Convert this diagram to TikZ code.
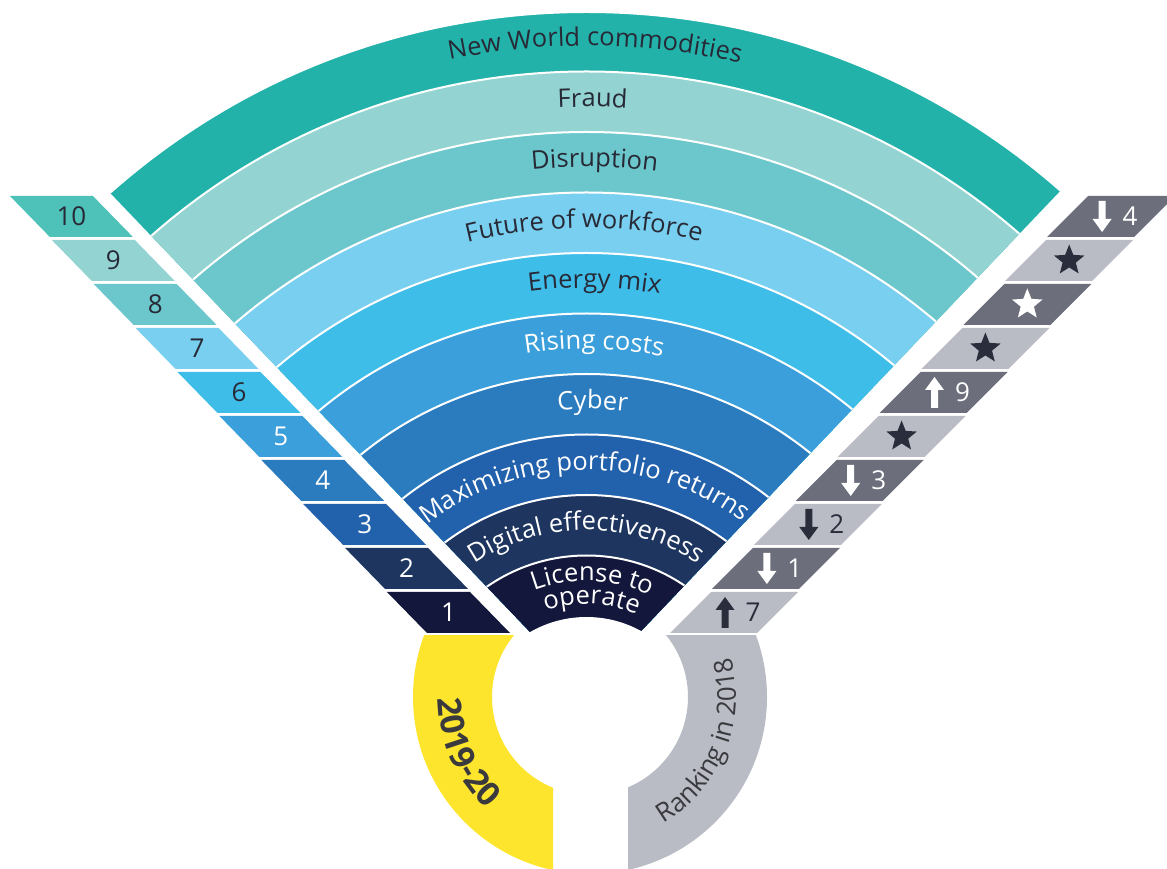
\documentclass[tikz,border=0pt]{standalone}
\usepackage{fontspec}
\setmainfont{Open Sans}
\usetikzlibrary{calc,decorations.text,shapes.geometric}

\definecolor{cNWC}{HTML}{22B2AA}
\definecolor{cFraud}{HTML}{93D4D2}
\definecolor{cDisr}{HTML}{6BC7CB}
\definecolor{cFut}{HTML}{79CFEF}
\definecolor{cEner}{HTML}{3FBDE9}
\definecolor{cRise}{HTML}{3A9FDA}
\definecolor{cCyb}{HTML}{2B7BBF}
\definecolor{cMax}{HTML}{2261AB}
\definecolor{cDig}{HTML}{1E355F}
\definecolor{cLic}{HTML}{13173B}
\definecolor{cTen}{HTML}{4EC2B9}
\definecolor{txtdark}{HTML}{272A36}
\definecolor{icondark}{HTML}{2A2D3B}
\definecolor{gdark}{HTML}{6C6F7B}
\definecolor{glight}{HTML}{B9BCC5}
\definecolor{ylw}{HTML}{FCE52C}
\definecolor{ringtxt}{HTML}{3A3A3E}

\newcommand\bandfnt{\fontsize{25.5}{30}\selectfont}
\newcommand\ringfntA{\fontsize{33}{36}\selectfont\bfseries}
\newcommand\ringfntB{\fontsize{26}{30}\selectfont}

% curved band label: #1 baseline radius, #2 x offset of centre, #3 colour, #4 text
\newcommand\bandlabel[4]{%
  \pgfmathsetmacro\tcA{90-asin(#2/#1)}%
  \path[decorate, decoration={text along path, text align=center,
      text={|\bandfnt\color{#3}|#4}}]
    (O) ++(\tcA+70:#1) arc[start angle=\tcA+70, end angle=\tcA-70, radius=#1];}

\newcommand\arrDown[3]{\fill[#3] (#1-3.5,#2+15.5) -- (#1+3.5,#2+15.5) -- (#1+3.5,#2-2.5) -- (#1+9.5,#2-2.5) -- (#1,#2-15.5) -- (#1-9.5,#2-2.5) -- (#1-3.5,#2-2.5) -- cycle;}
\newcommand\arrUp[3]{\fill[#3] (#1-3.5,#2-15.5) -- (#1+3.5,#2-15.5) -- (#1+3.5,#2+2.5) -- (#1+9.5,#2+2.5) -- (#1,#2+15.5) -- (#1-9.5,#2+2.5) -- (#1-3.5,#2+2.5) -- cycle;}

\begin{document}
\begin{tikzpicture}[x=1pt,y=1pt,
  numtxt/.style={font=\fontsize{26}{26}\selectfont, inner sep=0pt},
  starnode/.style={star, star points=5, star point ratio=2.3, minimum size=32pt, inner sep=0pt, draw=none}]
\useasboundingbox (0,0) rectangle (1167,868);
\clip (0,0) rectangle (1167,868);

% ---------- fan ----------
\coordinate (O) at (586.5,138);
\begin{scope}
  \clip (585.2,178.4) -- (-105,900) -- (1272.6,900) -- cycle;
  \foreach \r/\c in {718/cNWC, 658.5/cFraud, 598/cDisr, 537.5/cFut, 477/cEner,
                     416.5/cRise, 356/cCyb, 295.5/cMax, 235/cDig, 174.5/cLic}{
    \fill[\c] (O) circle (\r);
    \draw[white, line width=2pt] (O) circle (\r);
  }
\end{scope}
\fill[white] (O) circle (113);

\bandlabel{684}{8.5}{txtdark}{New World commodities}
\bandlabel{623}{6}{txtdark}{Fraud}
\bandlabel{563}{8}{txtdark}{Disruption}
\bandlabel{502}{-2.5}{txtdark}{Future of workforce}
\bandlabel{442}{8}{txtdark}{Energy mix}
\bandlabel{381}{7.5}{white}{Rising costs}
\bandlabel{321}{6}{white}{Cyber}
\bandlabel{260}{-2}{white}{Maximizing portfolio returns}
\bandlabel{200}{0}{white}{Digital effectiveness}
\bandlabel{149}{6}{white}{License to}
\bandlabel{126}{5}{white}{operate}

% ---------- left ranking strips ----------
\foreach \k/\c/\tc in {1/cLic/white, 2/cDig/white, 3/cMax/white, 4/cCyb/white, 5/cRise/white,
                       6/cEner/txtdark, 7/cFut/txtdark, 8/cDisr/txtdark, 9/cFraud/txtdark, 10/cTen/txtdark}{
  \pgfmathsetmacro\yb{235+44*(\k-1)}
  \pgfmathsetmacro\xb{427-41.9*(\k-1)}
  \fill[\c] (\xb,\yb) -- (\xb+83,\yb) -- (\xb+43,\yb+41) -- (\xb-40,\yb+41) -- cycle;
  \node[numtxt, text=\tc] (L\k) at (\xb+21.5,\yb+20.5) {\k};
}

% ---------- right ranking strips ----------
\foreach \k/\c in {1/glight, 2/gdark, 3/glight, 4/gdark, 5/glight,
                   6/gdark, 7/glight, 8/gdark, 9/glight, 10/gdark}{
  \pgfmathsetmacro\yb{235+44*(\k-1)}
  \pgfmathsetmacro\xb{670+41.9*(\k-1)}
  \fill[\c] (\xb,\yb) -- (\xb+87,\yb) -- (\xb+128,\yb+41) -- (\xb+41,\yb+41) -- cycle;
}
% row 10
\arrDown{1102.1}{651.5}{white}
\node[numtxt, text=white] (R10) at (1130.1,651.5) {4};
% rows 9, 8, 7
\node[starnode, fill=icondark] (S9) at (1069.2,607.5) {};
\node[starnode, fill=white] (S8) at (1027.3,563.5) {};
\node[starnode, fill=icondark] (S7) at (985.4,519.5) {};
% row 6
\arrUp{934.5}{475.5}{white}
\node[numtxt, text=white] (R6) at (962.5,475.5) {9};
% row 5
\node[starnode, fill=icondark] (S5) at (901.6,431.5) {};
% row 4
\arrDown{850.7}{387.5}{white}
\node[numtxt, text=white] (R4) at (878.7,387.5) {3};
% row 3
\arrDown{808.8}{343.5}{icondark}
\node[numtxt, text=icondark] (R3) at (836.8,343.5) {2};
% row 2
\arrDown{766.9}{299.5}{white}
\node[numtxt, text=white] (R2) at (794.9,299.5) {1};
% row 1
\arrUp{725}{255.5}{icondark}
\node[numtxt, text=icondark] (R1) at (753,255.5) {7};

% ---------- bottom ring ----------
\coordinate (C) at (590,171);
\begin{scope}
  \clip (0,0) rectangle (553,232);
  \fill[ylw, even odd rule] (C) circle (177) (C) circle (98);
\end{scope}
\begin{scope}
  \clip (628,0) rectangle (1167,232);
  \fill[glight, even odd rule] (C) circle (177) (C) circle (98);
\end{scope}
\path[decorate, decoration={text along path, text align=center,
    text={|\ringfntA\color{ringtxt}|2019-20}}]
  (C) ++(144:152) arc[start angle=144, end angle=264, radius=152];
\path[decorate, decoration={text along path, text align=center,
    text={|\ringfntB\color{ringtxt}|Ranking in 2018}}]
  (C) ++(-82:146) arc[start angle=-82, end angle=38, radius=146];
\end{tikzpicture}
\end{document}
